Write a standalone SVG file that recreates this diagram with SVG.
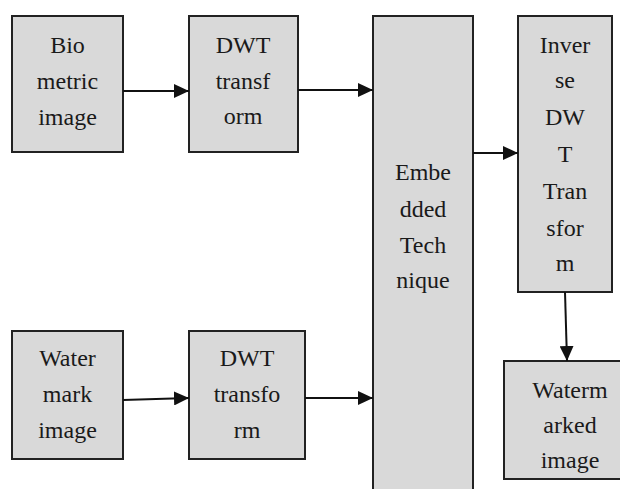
<svg xmlns="http://www.w3.org/2000/svg" width="620" height="489" viewBox="0 0 620 489">
<style>
.box{fill:#d9d9d9;stroke:#222;stroke-width:2}
.lbl{font-family:"Liberation Serif","Times New Roman",serif;font-size:24px;fill:#1a1a1a;text-anchor:middle}
.conn{stroke:#111;stroke-width:2;fill:none}
.edge{stroke:#222;stroke-width:2}
</style>
<defs>
<marker id="arr" markerUnits="userSpaceOnUse" markerWidth="16" markerHeight="14" refX="15" refY="7" orient="auto">
<path d="M0,0 L15,7 L0,14 z" fill="#111"/>
</marker>
<clipPath id="wmclip"><rect x="504" y="361" width="132" height="118"/></clipPath>
</defs>
<rect width="620" height="489" fill="#fff"/>
<g id="bio">
<rect class="box" x="12" y="16" width="111" height="136"/>
<text class="lbl" x="67.5" y="53">Bio</text>
<text class="lbl" x="67.5" y="89">metric</text>
<text class="lbl" x="67.5" y="125">image</text>
</g>
<g id="dwt1">
<rect class="box" x="189" y="16" width="109" height="136"/>
<text class="lbl" x="243" y="53">DWT</text>
<text class="lbl" x="243" y="89">transf</text>
<text class="lbl" x="243" y="124">orm</text>
</g>
<g id="water">
<rect class="box" x="12" y="331" width="111" height="128"/>
<text class="lbl" x="67.5" y="366">Water</text>
<text class="lbl" x="67.5" y="402">mark</text>
<text class="lbl" x="67.5" y="438">image</text>
</g>
<g id="dwt2">
<rect class="box" x="189" y="331" width="116" height="128"/>
<text class="lbl" x="247" y="366">DWT</text>
<text class="lbl" x="247" y="402">transfo</text>
<text class="lbl" x="247" y="438">rm</text>
</g>
<g id="embedded">
<rect class="box" x="373" y="16" width="100" height="490"/>
<text class="lbl" x="423" y="180">Embe</text>
<text class="lbl" x="423" y="217">dded</text>
<text class="lbl" x="423" y="253">Tech</text>
<text class="lbl" x="423" y="288">nique</text>
</g>
<g id="inverse">
<rect class="box" x="518" y="16" width="94" height="276"/>
<text class="lbl" x="565" y="53">Inver</text>
<text class="lbl" x="565" y="88">se</text>
<text class="lbl" x="565" y="125">DW</text>
<text class="lbl" x="565" y="162">T</text>
<text class="lbl" x="565" y="199">Tran</text>
<text class="lbl" x="565" y="236">sfor</text>
<text class="lbl" x="565" y="271">m</text>
</g>
<g id="watermarked">
<rect class="box" x="504" y="361" width="132" height="118"/>
<g clip-path="url(#wmclip)">
<text class="lbl" x="570" y="398">Waterm</text>
<text class="lbl" x="570" y="433">arked</text>
<text class="lbl" x="570" y="468">image</text>
</g>
<line class="edge" x1="504" y1="479" x2="636" y2="479"/>
</g>
<g id="connectors">
<line class="conn" x1="123" y1="91" x2="189" y2="91" marker-end="url(#arr)"/>
<line class="conn" x1="298" y1="90" x2="373" y2="90" marker-end="url(#arr)"/>
<line class="conn" x1="123" y1="400" x2="189" y2="398" marker-end="url(#arr)"/>
<line class="conn" x1="305" y1="398" x2="373" y2="398" marker-end="url(#arr)"/>
<line class="conn" x1="473" y1="153" x2="518" y2="153" marker-end="url(#arr)"/>
<line class="conn" x1="565" y1="292" x2="567" y2="361" marker-end="url(#arr)"/>
</g>
</svg>
